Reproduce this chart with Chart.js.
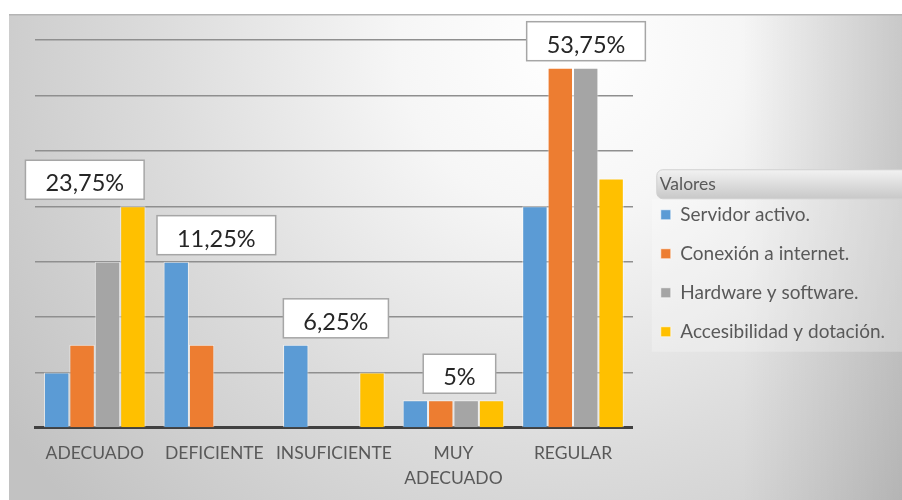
<!DOCTYPE html>
<html>
<head>
<meta charset="utf-8">
<script src="https://cdn.jsdelivr.net/npm/chart.js@4"></script>
<style>
  html, body { margin: 0; padding: 0; background: #fff; }
  #wrap { position: absolute; left: 9px; top: 14px; width: 893px; height: 486px; }
</style>
</head>
<body>
<div id="wrap"><canvas id="grafico"></canvas></div>
<script>
const categorias = ['ADECUADO', 'DEFICIENTE', 'INSUFICIENTE', ['MUY', 'ADECUADO'], 'REGULAR'];
const servidor = [1, 3, 1.5, 0.5, 4];
const conexion = [1.5, 1.5, 0, 0.5, 6.5];
const hardware = [3, 0, 0, 0.5, 6.5];
const accesibilidad = [4, 0, 1, 0.5, 4.5];
const porcentajes = ['23,75%', '11,25%', '6,25%', '5%', '53,75%'];

const fuente = 'Lato, "Open Sans", sans-serif';

// fondo degradado + cabecera de la leyenda
const fondo = {
  id: 'fondo',
  beforeDraw(chart) {
    const ctx = chart.ctx, w = chart.width, h = chart.height;
    ctx.save();
    const g = ctx.createRadialGradient(560, 30, 0, 560, 30, 680);
    g.addColorStop(0, '#ffffff');
    g.addColorStop(0.25, '#f6f6f6');
    g.addColorStop(0.6, '#dcdcdc');
    g.addColorStop(1, '#c2c2c2');
    ctx.fillStyle = g;
    ctx.fillRect(0, 0, w, h);
    const lg = ctx.createLinearGradient(w - 160, 0, w, 0);
    lg.addColorStop(0, 'rgba(0,0,0,0)');
    lg.addColorStop(1, 'rgba(0,0,0,0.12)');
    ctx.fillStyle = lg;
    ctx.fillRect(w - 160, 0, 160, h);
    ctx.strokeStyle = '#b4b4b4';
    ctx.lineWidth = 1.5;
    ctx.beginPath(); ctx.moveTo(0, 0.75); ctx.lineTo(w, 0.75); ctx.stroke();

    const lgd = chart.legend;
    if (lgd && lgd.legendHitBoxes.length) {
      const first = lgd.legendHitBoxes[0];
      const last = lgd.legendHitBoxes[lgd.legendHitBoxes.length - 1];
      const x0 = first.left - 4;
      const c0 = first.top + first.height / 2;
      const c1 = last.top + last.height / 2;
      ctx.fillStyle = 'rgba(255,255,255,0.25)';
      ctx.fillRect(x0 - 5, c0 - 16, w - x0 + 5, c1 - c0 + 36);
      const hy = c0 - 45;
      const hg = ctx.createLinearGradient(0, hy, 0, hy + 29);
      hg.addColorStop(0, '#f2f2f2');
      hg.addColorStop(1, '#c8c8c8');
      ctx.fillStyle = hg;
      ctx.strokeStyle = '#d0d0d0';
      ctx.lineWidth = 1;
      ctx.beginPath();
      ctx.roundRect(x0, hy, w - x0 + 6, 29, 6);
      ctx.fill();
      ctx.stroke();
      // texto de la cabecera, alineado con los cuadritos
      ctx.fillStyle = '#595959';
      ctx.font = '17.5px ' + fuente;
      ctx.textBaseline = 'middle';
      ctx.fillText(lgd.options.title.text, x0 + 3, hy + 15);
    }
    ctx.restore();
  }
};

// etiquetas con recuadro sobre cada grupo
const etiquetas = {
  id: 'etiquetas',
  afterDatasetsDraw(chart, args, opts) {
    const ctx = chart.ctx;
    const xs = chart.scales.x, ys = chart.scales.y;
    ctx.save();
    ctx.font = '23.5px ' + fuente;
    ctx.textAlign = 'center';
    ctx.textBaseline = 'middle';
    porcentajes.forEach((txt, i) => {
      const max = Math.max(...chart.data.datasets.map(d => d.data[i]));
      const cx = xs.getPixelForValue(i) + opts.desplaza[i];
      const top = ys.getPixelForValue(max);
      const bw = ctx.measureText(txt).width + 40;
      const bh = 39;
      const by = top - 7 - bh;
      ctx.fillStyle = '#ffffff';
      ctx.fillRect(cx - bw / 2, by, bw, bh);
      ctx.strokeStyle = '#a6a6a6';
      ctx.lineWidth = 1.5;
      ctx.strokeRect(cx - bw / 2, by, bw, bh);
      ctx.fillStyle = '#262626';
      ctx.fillText(txt, cx, by + bh / 2 + 4);
    });
    ctx.restore();
  }
};

const serie = (label, data, color) => ({
  label, data,
  backgroundColor: color,
  borderColor: 'rgba(255,255,255,0.6)',
  borderWidth: 1,
  borderSkipped: 'start',
  barPercentage: 1,
  categoryPercentage: 0.85
});

function dibujar() {
  new Chart(document.getElementById('grafico'), {
    type: 'bar',
    data: {
      labels: categorias,
      datasets: [
        serie('Servidor activo.', servidor, '#5b9bd5'),
        serie('Conexión a internet.', conexion, '#ed7d31'),
        serie('Hardware y software.', hardware, '#a5a5a5'),
        serie('Accesibilidad y dotación.', accesibilidad, '#ffc000')
      ]
    },
    options: {
      responsive: true,
      maintainAspectRatio: false,
      animation: false,
      layout: { padding: { left: 26, top: 26, right: 7, bottom: 4 } },
      scales: {
        x: {
          grid: { display: false },
          border: { color: '#404040', width: 3 },
          ticks: { color: '#595959', padding: 5, font: { family: fuente, size: 17.5, lineHeight: 1.43 }, maxRotation: 0 }
        },
        y: {
          position: 'right',
          min: 0, max: 7,
          ticks: { display: false, stepSize: 1 },
          border: { display: false },
          grid: { color: '#8f8f8f', lineWidth: 1.5, drawTicks: false },
          afterFit: (s) => { s.width = 8; }
        }
      },
      plugins: {
        tooltip: { enabled: false },
        etiquetas: { desplaza: [-10, 2, 2, 6, 13] },
        legend: {
          position: 'right',
          align: 'center',
          maxWidth: 320,
          // el titulo solo reserva el hueco; se pinta dentro de la cabecera
          title: { display: true, text: 'Valores', position: 'start', color: 'rgba(0,0,0,0)', padding: 0, font: { family: fuente, size: 17.5, lineHeight: 0.6 } },
          labels: { boxWidth: 10, boxHeight: 10, padding: 20, color: '#595959', font: { family: fuente, size: 19 } }
        }
      }
    },
    plugins: [fondo, etiquetas]
  });
}

document.fonts.load('19px Lato').then(dibujar, dibujar);
</script>
</body>
</html>
